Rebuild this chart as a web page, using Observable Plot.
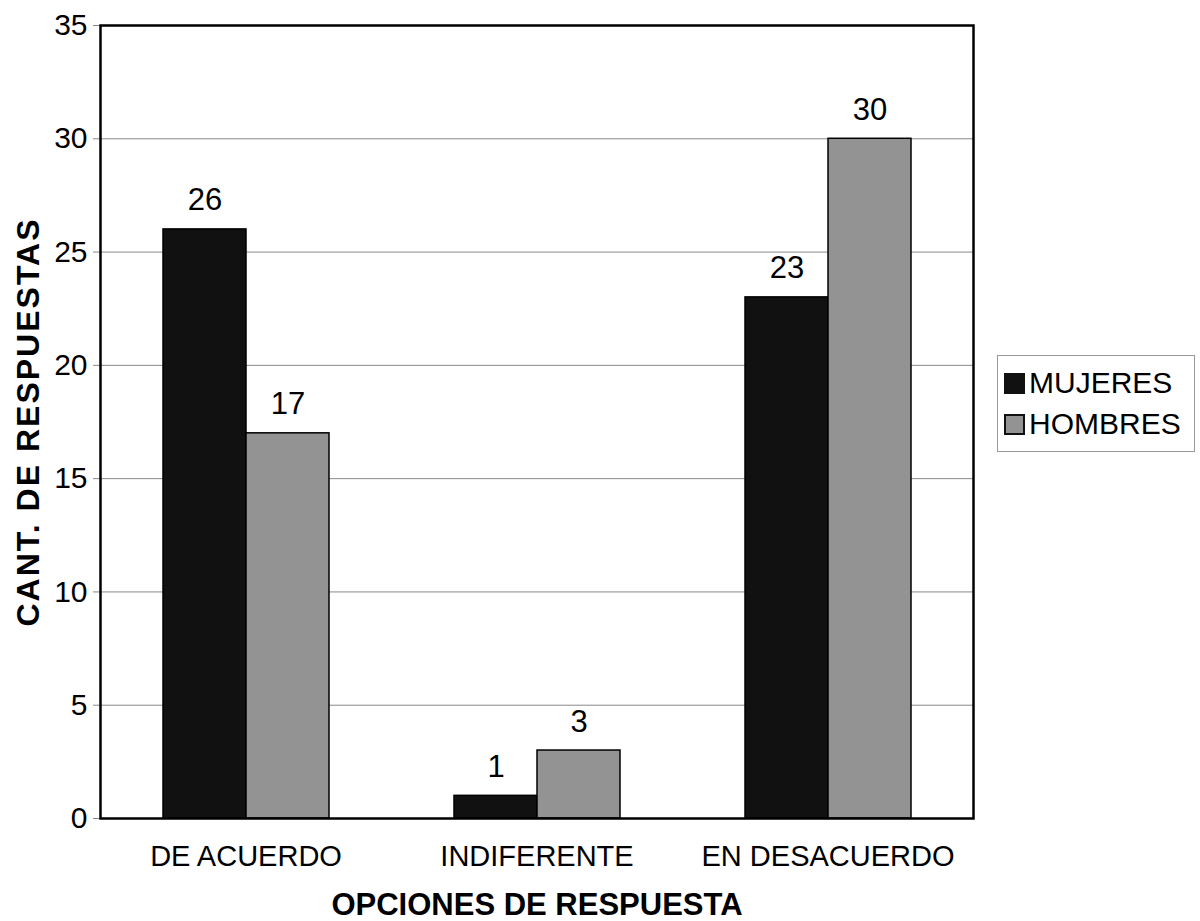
<!DOCTYPE html>
<html>
<head>
<meta charset="utf-8">
<script src="https://cdn.jsdelivr.net/npm/d3@7"></script>
<script src="https://cdn.jsdelivr.net/npm/@observablehq/plot@0.6"></script>
<style>
  html, body { margin: 0; padding: 0; background: #fff; }
  #wrap { position: relative; width: 1200px; height: 921px; font-family: "Liberation Sans", Arial, sans-serif; }
  #legend { position: absolute; left: 997px; top: 355px; width: 196px; height: 95px; border: 1px solid #999; background: #fff; }
  .item { position: absolute; left: 6px; display: flex; align-items: center; font-size: 30px; color: #000; }
  .sw { width: 21px; height: 21px; border: 2px solid #111; margin-right: 4px; box-sizing: border-box; }
</style>
</head>
<body>
<div id="wrap"></div>
<script>
const categories = ["DE ACUERDO", "INDIFERENTE", "EN DESACUERDO"];
const series = ["MUJERES", "HOMBRES"];
const mujeres = [26, 1, 23];
const hombres = [17, 3, 30];
const yTicks = [0, 5, 10, 15, 20, 25, 30, 35];
const colors = ["#111111", "#939393"];

const data = categories.flatMap((c, i) => [
  {cat: c, serie: series[0], value: mujeres[i]},
  {cat: c, serie: series[1], value: hombres[i]}
]);

const chart = Plot.plot({
  width: 1200,
  height: 921,
  marginLeft: 99,
  marginRight: 227,
  marginTop: 25,
  marginBottom: 103,
  style: {fontFamily: "'Liberation Sans', Arial, sans-serif", fontSize: "28px", color: "#000", background: "#fff"},
  fx: {domain: categories, padding: 0, label: null, axis: null},
  x: {domain: series, paddingInner: 0, paddingOuter: 0.75, axis: null},
  y: {domain: [0, 35], label: null},
  color: {domain: series, range: colors},
  marks: [
    Plot.gridY(yTicks, {stroke: "#8a8a8a", strokeOpacity: 1, strokeWidth: 1}),
    Plot.barY(data, {fx: "cat", x: "serie", y: "value", fill: "serie", stroke: "#000", strokeWidth: 1.5}),
    Plot.text(data, {fx: "cat", x: "serie", y: "value", text: d => String(d.value), lineAnchor: "bottom", dy: -19, fontSize: 31, fill: "#000"}),
    Plot.axisY(yTicks, {tickSize: 7, tickPadding: 6, stroke: "#888", fill: "#000", fontSize: 30,
      label: "CANT. DE RESPUESTAS", labelAnchor: "center", labelArrow: "none", labelOffset: 84}),
    Plot.axisFx({anchor: "bottom", tickSize: 0, tickPadding: 27, fontSize: 29, fill: "#000",
      label: "OPCIONES DE RESPUESTA", labelAnchor: "center", labelArrow: "none", labelOffset: 96}),
    Plot.frame({facet: "super", stroke: "#000", strokeWidth: 2.5})
  ]
});

// Bold axis titles
chart.querySelectorAll("[aria-label='y-axis label'] text, [aria-label='fx-axis label'] text").forEach(t => {
  t.setAttribute("font-weight", "bold");
  t.setAttribute("font-size", "31");
});
chart.querySelectorAll("[aria-label='y-axis label'] text").forEach(t => {
  t.setAttribute("font-size", "32");
  t.setAttribute("letter-spacing", "2");
});

const wrap = document.getElementById("wrap");
wrap.appendChild(chart);

const legend = document.createElement("div");
legend.id = "legend";
series.forEach((s, i) => {
  const it = document.createElement("div");
  it.className = "item";
  it.style.top = (i === 0 ? 10 : 51) + "px";
  const sw = document.createElement("div");
  sw.className = "sw";
  sw.style.background = colors[i];
  const tx = document.createElement("span");
  tx.textContent = s;
  it.appendChild(sw);
  it.appendChild(tx);
  legend.appendChild(it);
});
wrap.appendChild(legend);
</script>
</body>
</html>
